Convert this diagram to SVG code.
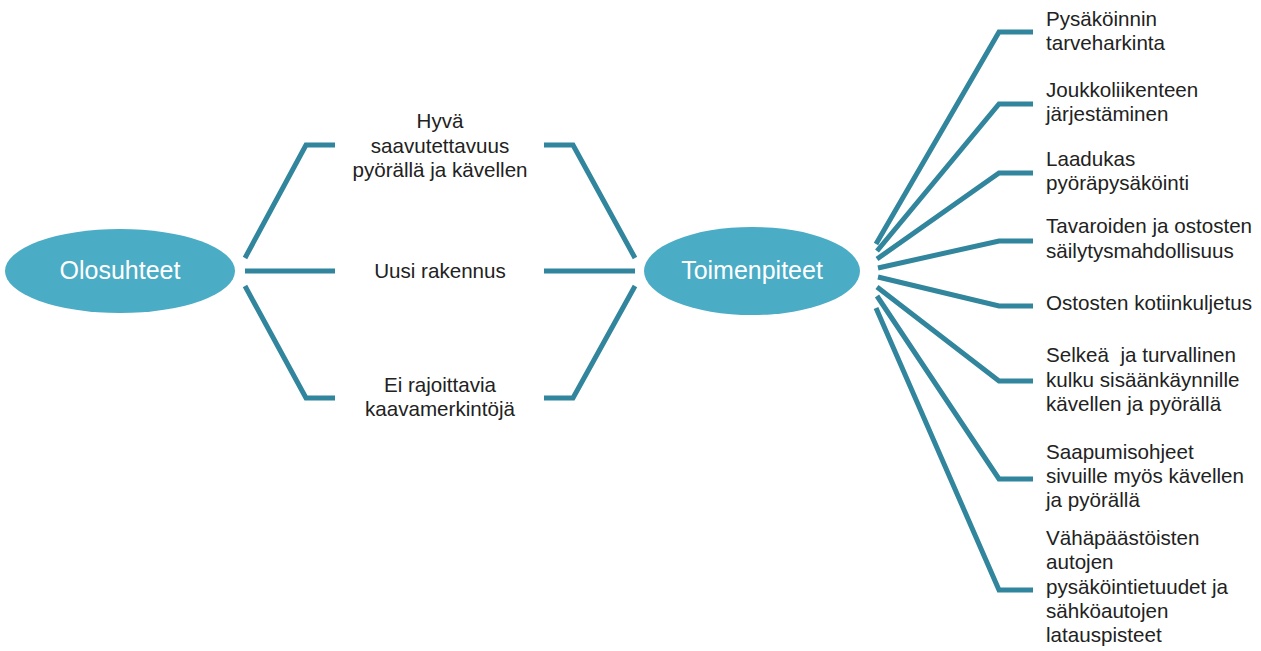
<svg xmlns="http://www.w3.org/2000/svg" width="1261" height="651" viewBox="0 0 1261 651">
<style>
.bg{fill:#ffffff}
.oval{fill:#4BACC6}
.ot{font-family:"Liberation Sans",Arial,sans-serif;font-size:25px;fill:#ffffff;text-anchor:middle}
.lbl{font-family:"Liberation Sans",Arial,sans-serif;font-size:20.6px;fill:#222222}
.mid{text-anchor:middle}
.con{fill:none;stroke:#31859C;stroke-width:5;stroke-linejoin:miter;stroke-linecap:butt}
</style>
<rect class="bg" width="1261" height="651"/>
<g id="connectors">
<polyline class="con" points="245,258 306,145 335,145"/>
<polyline class="con" points="245,271 335,271"/>
<polyline class="con" points="245,286 306,398 335,398"/>
<polyline class="con" points="544,145 573,145 635,258"/>
<polyline class="con" points="544,271 635,271"/>
<polyline class="con" points="544,398 573,398 635,286"/>
<polyline class="con" points="876,244 999,32 1033,32"/>
<polyline class="con" points="877,251 999,104 1033,104"/>
<polyline class="con" points="877,259 999,173 1033,173"/>
<polyline class="con" points="878,268 999,241 1033,241"/>
<polyline class="con" points="878,277 999,306 1033,306"/>
<polyline class="con" points="877,287 999,381 1033,381"/>
<polyline class="con" points="877,296 999,479 1033,479"/>
<polyline class="con" points="876,308 999,590 1033,590"/>
</g>
<g id="olosuhteet">
<ellipse class="oval" cx="120" cy="271" rx="115" ry="42"/>
<text class="ot" x="120" y="279">Olosuhteet</text>
</g>
<g id="toimenpiteet">
<ellipse class="oval" cx="752" cy="271" rx="108" ry="44"/>
<text class="ot" x="752" y="279">Toimenpiteet</text>
</g>
<g id="hyva-saavutettavuus">
<text class="lbl mid" x="440" y="128">Hyvä</text>
<text class="lbl mid" x="440" y="153">saavutettavuus</text>
<text class="lbl mid" x="440" y="177">pyörällä ja kävellen</text>
</g>
<g id="uusi-rakennus">
<text class="lbl mid" x="440" y="278">Uusi rakennus</text>
</g>
<g id="ei-rajoittavia">
<text class="lbl mid" x="440" y="392">Ei rajoittavia</text>
<text class="lbl mid" x="440" y="416">kaavamerkintöjä</text>
</g>
<g id="pysakoinnin">
<text class="lbl" x="1046" y="26">Pysäköinnin</text>
<text class="lbl" x="1046" y="50">tarveharkinta</text>
</g>
<g id="joukkoliikenne">
<text class="lbl" x="1046" y="97">Joukkoliikenteen</text>
<text class="lbl" x="1046" y="121">järjestäminen</text>
</g>
<g id="laadukas">
<text class="lbl" x="1046" y="166">Laadukas</text>
<text class="lbl" x="1046" y="190">pyöräpysäköinti</text>
</g>
<g id="tavaroiden">
<text class="lbl" x="1046" y="233">Tavaroiden ja ostosten</text>
<text class="lbl" x="1046" y="258">säilytysmahdollisuus</text>
</g>
<g id="kotiinkuljetus">
<text class="lbl" x="1046" y="310">Ostosten kotiinkuljetus</text>
</g>
<g id="selkea">
<text class="lbl" x="1046" y="362" xml:space="preserve">Selkeä  ja turvallinen</text>
<text class="lbl" x="1046" y="387">kulku sisäänkäynnille</text>
<text class="lbl" x="1046" y="411">kävellen ja pyörällä</text>
</g>
<g id="saapumisohjeet">
<text class="lbl" x="1046" y="459">Saapumisohjeet</text>
<text class="lbl" x="1046" y="483">sivuille myös kävellen</text>
<text class="lbl" x="1046" y="507">ja pyörällä</text>
</g>
<g id="vahapaastoiset">
<text class="lbl" x="1046" y="545">Vähäpäästöisten</text>
<text class="lbl" x="1046" y="569">autojen</text>
<text class="lbl" x="1046" y="594">pysäköintietuudet ja</text>
<text class="lbl" x="1046" y="618">sähköautojen</text>
<text class="lbl" x="1046" y="642">latauspisteet</text>
</g>
</svg>
